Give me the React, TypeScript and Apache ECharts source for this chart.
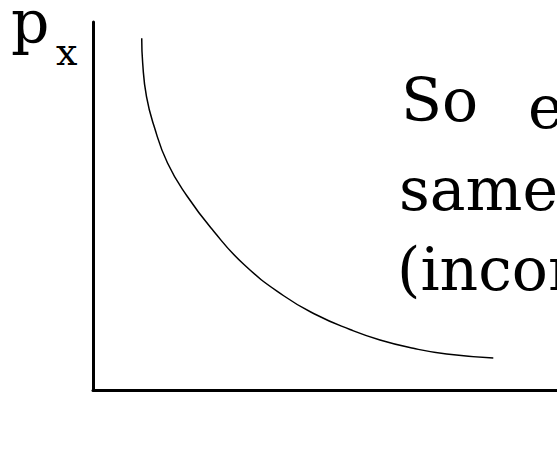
import React, { useEffect, useRef } from "react";
import * as echarts from "echarts";

// Demand curve points (quantity, price), axes scaled 0..100
const quantity = [10.5, 10.71, 11.53, 13.15, 16.06, 20.26, 25.97, 32.54, 41.01, 48.21, 55.39, 61.85, 69.03, 76.21, 86.27];
const price = [95.57, 88.78, 79.7, 71.74, 61.68, 52.72, 43.21, 34.1, 25.68, 20.38, 16.44, 13.59, 11.33, 9.78, 8.7];

const yLabel = "p";
const yLabelSub = "x";
const textLines = ["So", "e", "same", "(incom"];

const FONT = "DejaVu Serif";

export default function App() {
  const ref = useRef<HTMLDivElement>(null);
  useEffect(() => {
    if (!ref.current) return;
    const chart = echarts.init(ref.current, undefined, { renderer: "svg" });
    const data = quantity.map((q, i) => [q, price[i]]);
    const big = 60;
    // box top = baseline - (0.5 + 0.346) em for this font
    const txt = (s: string, x: number, baseline: number, size: number) => ({
      type: "text",
      left: x,
      top: Math.round(baseline - 0.846 * size),
      style: { text: s, fontFamily: FONT, fontSize: size, fill: "#000", verticalAlign: "top" },
    });
    chart.setOption({
      animation: false,
      grid: { left: 93, top: 22, right: 0, bottom: 60 },
      xAxis: {
        type: "value",
        min: 0,
        max: 100,
        axisLine: { show: true, lineStyle: { color: "#000", width: 3 } },
        axisTick: { show: false },
        axisLabel: { show: false },
        splitLine: { show: false },
      },
      yAxis: {
        type: "value",
        min: 0,
        max: 100,
        axisLine: { show: true, lineStyle: { color: "#000", width: 3 } },
        axisTick: { show: false },
        axisLabel: { show: false },
        splitLine: { show: false },
      },
      series: [
        {
          type: "line",
          data,
          smooth: 0.5,
          showSymbol: false,
          lineStyle: { color: "#000", width: 1.5 },
        },
      ],
      graphic: [
        txt(yLabel, 11, 43, big),
        txt(yLabelSub, 56, 65, 38),
        txt(textLines[0], 401, 121, big),
        txt(textLines[1], 528, 128, big),
        txt(textLines[2], 399, 210, big),
        txt(textLines[3], 397, 290, big),
      ],
    });
    return () => chart.dispose();
  }, []);
  return (
    <div
      ref={ref}
      style={{ position: "fixed", left: 0, top: 0, width: 557, height: 450, background: "#fff" }}
    />
  );
}
